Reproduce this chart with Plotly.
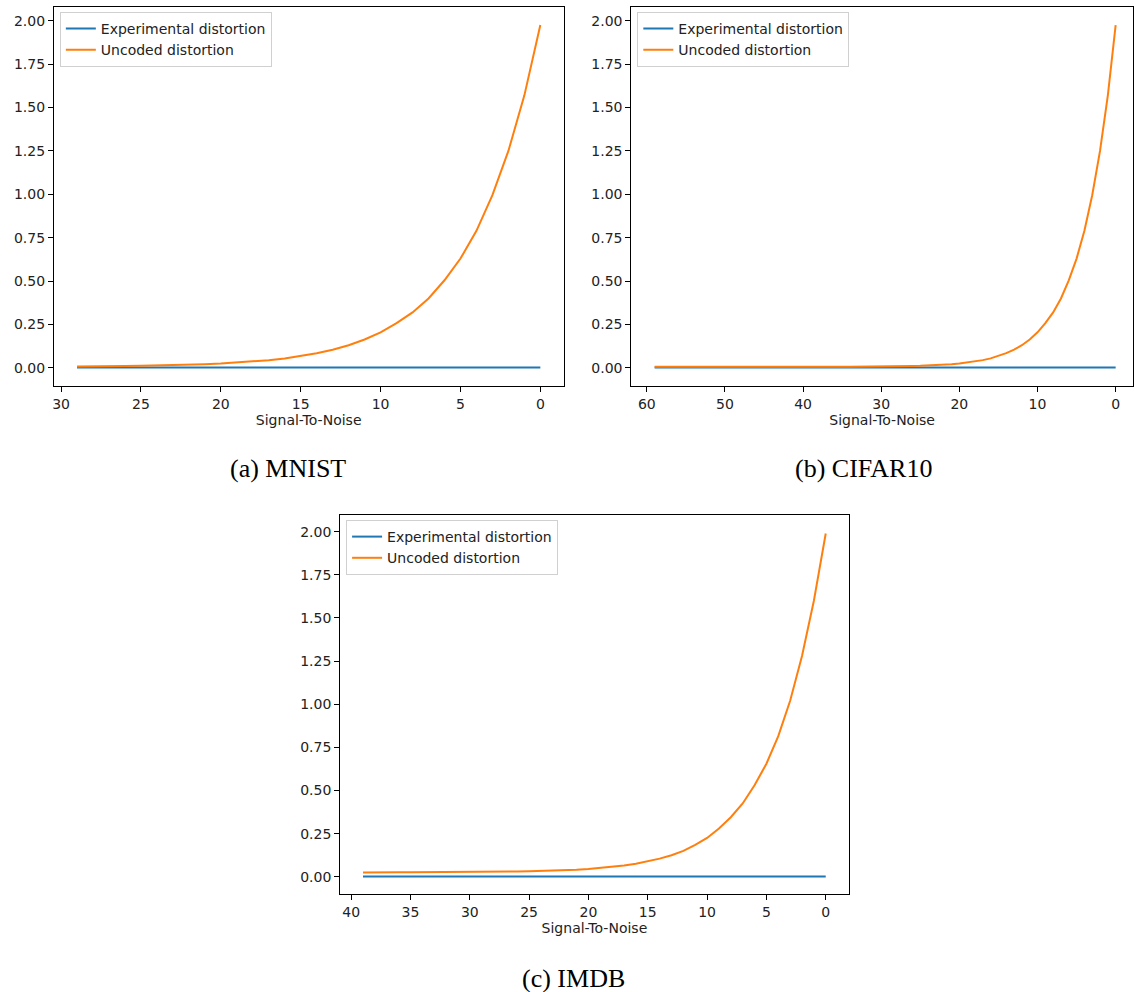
import plotly.graph_objects as go

# ---------------- data ----------------
snr_mnist = list(range(0, 30))
unc_mnist = [1.975, 1.57, 1.25, 0.995, 0.79, 0.63, 0.505, 0.40, 0.32, 0.258,
             0.205, 0.164, 0.131, 0.105, 0.085, 0.068, 0.055, 0.045, 0.037, 0.030,
             0.025, 0.021, 0.018, 0.015, 0.013, 0.012, 0.011, 0.010, 0.009, 0.008]
exp_mnist = [0.003, 0.003, 0.003, 0.003, 0.003, 0.003, 0.003, 0.003, 0.003, 0.003,
             0.003, 0.003, 0.003, 0.003, 0.003, 0.003, 0.003, 0.003, 0.003, 0.003,
             0.003, 0.003, 0.003, 0.003, 0.003, 0.003, 0.003, 0.003, 0.003, 0.003]

snr_cifar = list(range(0, 60))
unc_cifar = [1.975, 1.57, 1.25, 0.995, 0.79, 0.63, 0.505, 0.40, 0.32, 0.258,
             0.205, 0.164, 0.131, 0.105, 0.085, 0.068, 0.055, 0.045, 0.037, 0.030,
             0.025, 0.021, 0.018, 0.015, 0.013, 0.012, 0.011, 0.010, 0.009, 0.008,
             0.008, 0.008, 0.007, 0.007, 0.007, 0.007, 0.007, 0.007, 0.007, 0.007,
             0.007, 0.007, 0.007, 0.007, 0.007, 0.007, 0.007, 0.007, 0.007, 0.007,
             0.007, 0.007, 0.007, 0.007, 0.007, 0.007, 0.007, 0.007, 0.007, 0.007]
exp_cifar = [0.003, 0.003, 0.003, 0.003, 0.003, 0.003, 0.003, 0.003, 0.003, 0.003,
             0.003, 0.003, 0.003, 0.003, 0.003, 0.003, 0.003, 0.003, 0.003, 0.003,
             0.003, 0.003, 0.003, 0.003, 0.003, 0.003, 0.003, 0.003, 0.003, 0.003,
             0.003, 0.003, 0.003, 0.003, 0.003, 0.003, 0.003, 0.003, 0.003, 0.003,
             0.003, 0.003, 0.003, 0.003, 0.003, 0.003, 0.003, 0.003, 0.003, 0.003,
             0.003, 0.003, 0.003, 0.003, 0.003, 0.003, 0.003, 0.003, 0.003, 0.003]

snr_imdb = list(range(0, 40))
unc_imdb = [1.99, 1.60, 1.28, 1.02, 0.815, 0.655, 0.53, 0.425, 0.345, 0.28,
            0.225, 0.185, 0.15, 0.125, 0.105, 0.088, 0.075, 0.065, 0.057, 0.050,
            0.045, 0.041, 0.038, 0.035, 0.033, 0.032, 0.031, 0.030, 0.029, 0.028,
            0.028, 0.027, 0.027, 0.027, 0.026, 0.026, 0.026, 0.026, 0.025, 0.025]
exp_imdb = [0.002, 0.002, 0.002, 0.002, 0.002, 0.002, 0.002, 0.002, 0.002, 0.002,
            0.002, 0.002, 0.002, 0.002, 0.002, 0.002, 0.002, 0.002, 0.002, 0.002,
            0.002, 0.002, 0.002, 0.002, 0.002, 0.002, 0.002, 0.002, 0.002, 0.002,
            0.002, 0.002, 0.002, 0.002, 0.002, 0.002, 0.002, 0.002, 0.002, 0.002]

captions = ["(a) MNIST", "(b) CIFAR10", "(c) IMDB"]
series_names = ["Experimental distortion", "Uncoded distortion"]
x_label = "Signal-To-Noise"
y_ticks = [0.0, 0.25, 0.5, 0.75, 1.0, 1.25, 1.5, 1.75, 2.0]

BLUE = "#1f77b4"
ORANGE = "#ff7f0e"
W, H = 1134, 992
FONT = "DejaVu Sans"
FS = 14

fig = go.Figure()

panels = [
    (snr_mnist, exp_mnist, unc_mnist, "x", "y", "legend"),
    (snr_cifar, exp_cifar, unc_cifar, "x2", "y2", "legend2"),
    (snr_imdb, exp_imdb, unc_imdb, "x3", "y3", "legend3"),
]
for xs, ex, un, xa, ya, lg in panels:
    fig.add_trace(go.Scatter(x=xs, y=ex, mode="lines", name=series_names[0],
                             line=dict(color=BLUE, width=2), xaxis=xa, yaxis=ya, legend=lg))
    fig.add_trace(go.Scatter(x=xs, y=un, mode="lines", name=series_names[1],
                             line=dict(color=ORANGE, width=2), xaxis=xa, yaxis=ya, legend=lg))


def px_x(p):
    return p / W


def px_y(p):
    return 1 - p / H


def xaxis(dom, rng, dtick, anchor):
    return dict(domain=[px_x(dom[0]), min(1.0, px_x(dom[1]))], range=rng, dtick=dtick, tick0=0,
                showline=True, mirror=True, linecolor="black", linewidth=1,
                ticks="outside", ticklen=5, tickwidth=1, tickcolor="black",
                showgrid=False, zeroline=False, anchor=anchor,
                tickfont=dict(family=FONT, size=FS, color="#222"),
                title=dict(text=x_label, font=dict(family=FONT, size=FS, color="#222"), standoff=3))


def yaxis(dom, rng, anchor):
    return dict(domain=[px_y(dom[1]), px_y(dom[0])], range=rng, tickvals=y_ticks,
                tickformat=".2f", showline=True, mirror=True, linecolor="black", linewidth=1,
                ticks="outside", ticklen=5, tickwidth=1, tickcolor="black",
                showgrid=False, zeroline=False, anchor=anchor,
                tickfont=dict(family=FONT, size=FS, color="#222"))


def legend(xpx, ypx):
    return dict(x=px_x(xpx), y=px_y(ypx), xanchor="left", yanchor="top",
                bgcolor="white", bordercolor="#d0d0d0", borderwidth=1,
                font=dict(family=FONT, size=FS, color="#222"), tracegroupgap=0)


fig.update_layout(
    width=W, height=H, margin=dict(l=0, r=0, t=0, b=0),
    paper_bgcolor="white", plot_bgcolor="white", showlegend=True,
    xaxis=xaxis((52, 563), [30.45, -1.45], 5, "y"),
    yaxis=yaxis((7, 386), [-0.104, 2.079], "x"),
    xaxis2=xaxis((631, 1134), [61.98, -2.22], 10, "y2"),
    yaxis2=yaxis((7, 386), [-0.104, 2.079], "x2"),
    xaxis3=xaxis((339, 849), [40.93, -1.94], 5, "y3"),
    yaxis3=yaxis((515, 894), [-0.1, 2.097], "x3"),
    legend=legend(58, 12),
    legend2=legend(637, 12),
    legend3=legend(345, 520),
)

for text, cx, cy in zip(captions, [287, 864, 573], [468, 468, 978]):
    fig.add_annotation(text=text, x=px_x(cx), y=px_y(cy), xref="paper", yref="paper",
                       xanchor="center", yanchor="middle", showarrow=False,
                       font=dict(family="Liberation Serif", size=26, color="black"))

fig.write_html("out.html", config={"displayModeBar": False},
               post_script="document.body.style.margin='0';document.body.style.overflow='hidden';")
